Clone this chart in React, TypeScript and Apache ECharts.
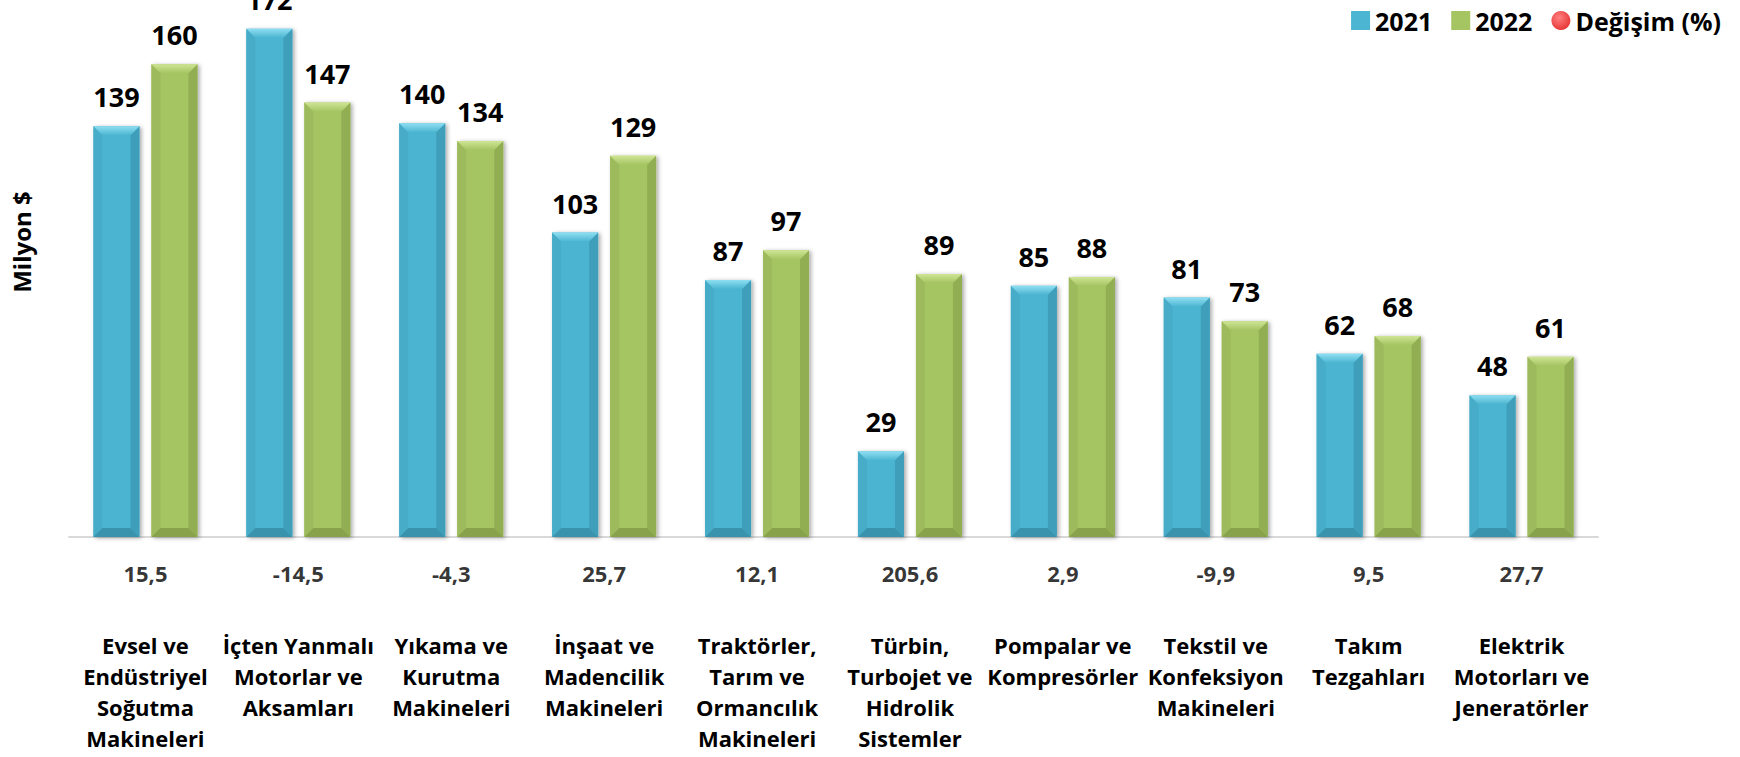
import React, { useEffect, useRef } from "react";
import * as echarts from "echarts";

const categories = [
  "Evsel ve\nEndüstriyel\nSoğutma\nMakineleri",
  "İçten Yanmalı\nMotorlar ve\nAksamları",
  "Yıkama ve\nKurutma\nMakineleri",
  "İnşaat ve\nMadencilik\nMakineleri",
  "Traktörler,\nTarım ve\nOrmancılık\nMakineleri",
  "Türbin,\nTurbojet ve\nHidrolik\nSistemler",
  "Pompalar ve\nKompresörler",
  "Tekstil ve\nKonfeksiyon\nMakineleri",
  "Takım\nTezgahları",
  "Elektrik\nMotorları ve\nJeneratörler",
];
const values2021 = [139, 172, 140, 103, 87, 29, 85, 81, 62, 48];
const values2022 = [160, 147, 134, 129, 97, 89, 88, 73, 68, 61];
const changePct = [15.5, -14.5, -4.3, 25.7, 12.1, 205.6, 2.9, -9.9, 9.5, 27.7];
const seriesNames = ["2021", "2022", "Değişim (%)"];

const FONT = "'Open Sans', sans-serif";
const BAR_W = 46;
const BAR_GAP = 12;

export default function App() {
  const ref = useRef<HTMLDivElement>(null);
  useEffect(() => {
    if (!ref.current) return;
    const chart = echarts.init(ref.current, undefined, { renderer: "svg" });
    const palettes = [
      { face: "#4cb5d1", top: "#8fdff2", left: "#47acc7", right: "#3f9fba", bottom: "#3a93ad" },
      { face: "#a5c462", top: "#cfe595", left: "#9dbb5c", right: "#92ae53", bottom: "#87a24b" },
    ];
    const off = (BAR_W + BAR_GAP) / 2;
    const option: any = {
      animation: false,
      legend: {
        right: 14,
        top: 3,
        itemWidth: 19,
        itemHeight: 19,
        itemGap: 19,
        textStyle: { fontFamily: FONT, fontSize: 25, fontWeight: 700, color: "#000" },
        data: [
          { name: seriesNames[0], icon: "rect" },
          { name: seriesNames[1], icon: "rect" },
          { name: seriesNames[2], icon: "circle" },
        ],
      },
      grid: [
        { left: 69, right: 142, top: 8, bottom: 220 },
        { left: 69, right: 142, top: 563, height: 20 },
      ],
      xAxis: [
        {
          type: "category",
          data: categories,
          gridIndex: 0,
          axisLine: { lineStyle: { color: "#d9d9d9", width: 2 } },
          axisTick: { show: false },
          axisLabel: {
            interval: 0,
            margin: 92,
            fontFamily: FONT,
            fontSize: 22,
            fontWeight: 700,
            lineHeight: 31,
            color: "#000",
          },
        },
        { type: "category", gridIndex: 1, data: categories, show: false },
      ],
      yAxis: [
        { type: "value", gridIndex: 0, min: 0, max: 179, show: false, splitLine: { show: false } },
        { type: "value", gridIndex: 1, min: -1, max: 1, show: false, splitLine: { show: false } },
      ],
      graphic: [
        {
          type: "text",
          x: 21,
          y: 242,
          rotation: Math.PI / 2,
          style: {
            text: "Milyon $",
            fontFamily: FONT,
            fontSize: 24,
            fontWeight: 700,
            fill: "#000",
            align: "center",
            verticalAlign: "middle",
          },
        },
      ],
      series: [
        ...[values2021, values2022].map((vals, k) => ({
          name: seriesNames[k],
          type: "bar",
          xAxisIndex: 0,
          yAxisIndex: 0,
          data: vals,
          barWidth: BAR_W,
          barGap: (BAR_GAP / BAR_W) * 100 + "%",
          itemStyle: {
            color: palettes[k].face,
            shadowBlur: 4,
            shadowColor: "rgba(0,0,0,0.35)",
            shadowOffsetX: 2,
            shadowOffsetY: 1,
          },
          label: {
            show: true,
            position: "top",
            distance: 16,
            fontFamily: FONT,
            fontSize: 27,
            fontWeight: 700,
            color: "#000",
          },
        })),
        {
          name: "bevel",
          type: "custom",
          xAxisIndex: 0,
          yAxisIndex: 0,
          silent: true,
          z: 5,
          encode: { x: 0, y: 1 },
          data: categories.map((_, i) => [i, values2021[i], values2022[i]]),
          renderItem: (params: any, api: any) => {
            const i = api.value(0);
            const children: any[] = [];
            [api.value(1), api.value(2)].forEach((v: number, k: number) => {
              const [cx, top] = api.coord([i, v]);
              const [, base] = api.coord([i, 0]);
              const x0 = cx + (k === 0 ? -off : off) - BAR_W / 2;
              const x1 = x0 + BAR_W;
              const b = Math.min(9, (base - top) / 2);
              const p = palettes[k];
              children.push(
                { type: "polygon", shape: { points: [[x0, top], [x0 + b, top + b], [x0 + b, base - b], [x0, base]] }, style: { fill: p.left } },
                { type: "polygon", shape: { points: [[x1, top], [x1 - b, top + b], [x1 - b, base - b], [x1, base]] }, style: { fill: p.right } },
                {
                  type: "polygon",
                  shape: { points: [[x0, top], [x1, top], [x1 - b, top + b], [x0 + b, top + b]] },
                  style: {
                    fill: new echarts.graphic.LinearGradient(0, 0, 0, 1, [
                      { offset: 0, color: p.top },
                      { offset: 1, color: p.face },
                    ]),
                  },
                },
                { type: "polygon", shape: { points: [[x0, base], [x1, base], [x1 - b, base - b], [x0 + b, base - b]] }, style: { fill: p.bottom } }
              );
            });
            return { type: "group", children };
          },
        },
        {
          name: seriesNames[2],
          type: "scatter",
          xAxisIndex: 1,
          yAxisIndex: 1,
          symbolSize: 0,
          itemStyle: {
            color: {
              type: "radial",
              x: 0.4,
              y: 0.35,
              r: 0.7,
              colorStops: [
                { offset: 0, color: "#ff6060" },
                { offset: 1, color: "#e00000" },
              ],
            },
          },
          data: changePct.map((p, i) => [i, 0, p]),
          label: {
            show: true,
            position: "inside",
            formatter: (p: any) => p.value[2].toFixed(1).replace(".", ","),
            fontFamily: FONT,
            fontSize: 22,
            fontWeight: 700,
            color: "#000",
          },
        },
      ],
    };
    chart.setOption(option);
    return () => chart.dispose();
  }, []);
  return (
    <div
      ref={ref}
      style={{ position: "fixed", left: 0, top: 0, width: 1740, height: 757, background: "#fff" }}
    />
  );
}
